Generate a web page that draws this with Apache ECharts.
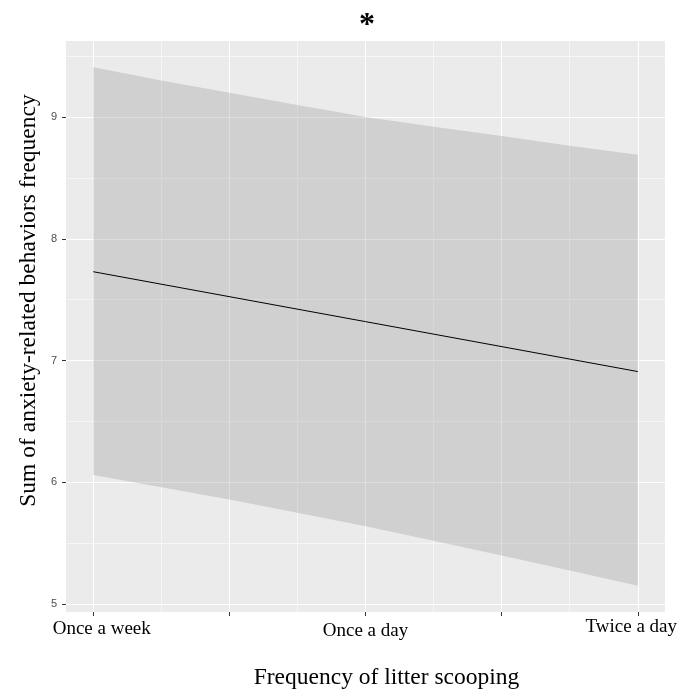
<!DOCTYPE html>
<html>
<head>
<meta charset="utf-8">
<script src="https://cdn.jsdelivr.net/npm/echarts@6/dist/echarts.min.js"></script>
<style>
  html, body { margin: 0; padding: 0; background: #ffffff; }
  #chart { width: 677px; height: 691px; }
</style>
</head>
<body>
<div id="chart"></div>
<script>
// Predicted effect of litter scooping frequency with its confidence band
const xTickValues = [1, 2, 3];
const xTickLabels = ['Once a week', 'Once a day', 'Twice a day'];
const xMinorTicks = [1, 1.5, 2, 2.5, 3];
const yTicks = [5, 6, 7, 8, 9];

const fitX = [1, 2, 3];
const fitValues = [7.73, 7.32, 6.91];

const bandX = [1, 1.25, 1.5, 1.75, 2, 2.25, 2.5, 2.75, 3];
const bandLower = [6.06, 5.96, 5.86, 5.75, 5.64, 5.52, 5.40, 5.275, 5.15];
const bandUpper = [9.41, 9.30, 9.20, 9.10, 9.00, 8.92, 8.845, 8.765, 8.69];

const xGridMajor = [1, 1.5, 2, 2.5, 3];
const xGridMinor = [1.25, 1.75, 2.25, 2.75];
const yGridMajor = [5, 6, 7, 8, 9];
const yGridMinor = [5.5, 6.5, 7.5, 8.5, 9.5];

const chart = echarts.init(document.getElementById('chart'), null, { renderer: 'canvas' });

const serif = '"Liberation Serif", "DejaVu Serif", serif';
const sans = '"Liberation Sans", Arial, sans-serif';

const gridLines = [];
xGridMajor.forEach(v => gridLines.push({ xAxis: v, lineStyle: { width: 1.1 } }));
xGridMinor.forEach(v => gridLines.push({ xAxis: v, lineStyle: { width: 0.55 } }));
yGridMajor.forEach(v => gridLines.push({ yAxis: v, lineStyle: { width: 1.1 } }));
yGridMinor.forEach(v => gridLines.push({ yAxis: v, lineStyle: { width: 0.55 } }));

const labelStyles = [
  { padding: [2, 0, 0, 17] },
  { padding: [4, 0, 0, 0] },
  { padding: [0, 13, 0, 0] }
];
const rich = {};
labelStyles.forEach((s, i) => {
  rich['l' + i] = Object.assign({ fontFamily: serif, fontSize: 19, color: '#000000' }, s);
});

// Confidence band: one polygon along the upper edge and back along the lower edge
function renderBand(params, api) {
  if (params.dataIndex !== 0) return null;
  const pts = [];
  for (let i = 0; i < bandX.length; i++) pts.push(api.coord([bandX[i], bandUpper[i]]));
  for (let i = bandX.length - 1; i >= 0; i--) pts.push(api.coord([bandX[i], bandLower[i]]));
  return {
    type: 'polygon',
    shape: { points: pts },
    style: { fill: 'rgba(145,145,145,0.3)', stroke: null }
  };
}

chart.setOption({
  animation: false,
  backgroundColor: '#ffffff',
  grid: {
    left: 66, right: 12, top: 41, bottom: 79,
    outerBoundsMode: 'none',
    containLabel: false,
    show: true, backgroundColor: '#EBEBEB', borderWidth: 0
  },
  xAxis: {
    type: 'value',
    min: 0.9,
    max: 3.1,
    axisLine: { show: false },
    splitLine: { show: false },
    axisTick: {
      show: true, length: 4, customValues: xMinorTicks,
      lineStyle: { color: '#333333', width: 1 }
    },
    axisLabel: {
      customValues: xTickValues,
      margin: 6,
      hideOverlap: false,
      fontFamily: serif,
      fontSize: 19,
      color: '#000000',
      formatter: function (v) {
        const i = xTickValues.indexOf(v);
        return i < 0 ? '' : '{l' + i + '|' + xTickLabels[i] + '}';
      },
      rich: rich
    }
  },
  yAxis: {
    type: 'value',
    min: 4.935,
    max: 9.625,
    axisLine: { show: false },
    splitLine: { show: false },
    axisTick: {
      show: true, length: 4, customValues: yTicks,
      lineStyle: { color: '#333333', width: 1 }
    },
    axisLabel: {
      customValues: yTicks,
      margin: 9,
      fontFamily: sans,
      fontSize: 11,
      color: '#4D4D4D'
    }
  },
  graphic: [
    {
      type: 'text', x: 367, y: 26,
      style: {
        text: '*', fontFamily: serif, fontSize: 32, fontWeight: 'bold',
        fill: '#000000', align: 'center', verticalAlign: 'middle'
      }
    },
    {
      type: 'text', x: 386.5, y: 678,
      style: {
        text: 'Frequency of litter scooping',
        fontFamily: serif, fontSize: 23.5, fill: '#000000',
        align: 'center', verticalAlign: 'middle'
      }
    },
    {
      type: 'text', x: 29, y: 300.5, rotation: Math.PI / 2,
      style: {
        text: 'Sum of anxiety-related behaviors frequency',
        fontFamily: serif, fontSize: 23.5, fill: '#000000',
        align: 'center', verticalAlign: 'middle'
      }
    }
  ],
  series: [
    {
      name: 'grid',
      type: 'line',
      data: [],
      z: 1,
      silent: true,
      markLine: {
        z: 1,
        silent: true,
        symbol: ['none', 'none'],
        label: { show: false },
        lineStyle: { color: '#ffffff', type: 'solid' },
        emphasis: { disabled: true },
        data: gridLines
      }
    },
    {
      name: 'band',
      type: 'custom',
      z: 3,
      silent: true,
      renderItem: renderBand,
      encode: { x: 0, y: [1, 2] },
      data: bandX.map((x, i) => [x, bandLower[i], bandUpper[i]])
    },
    {
      name: 'fit',
      type: 'line',
      z: 4,
      silent: true,
      symbol: 'none',
      lineStyle: { color: '#000000', width: 1 },
      data: fitX.map((x, i) => [x, fitValues[i]])
    }
  ]
});
</script>
</body>
</html>
